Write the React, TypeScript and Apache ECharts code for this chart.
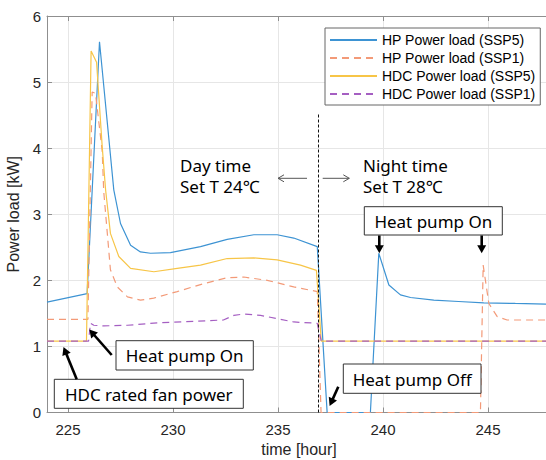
import React, { useEffect, useRef } from "react";
import * as echarts from "echarts";

// ---------- data ----------
const xTicks = [225, 230, 235, 240, 245];
const seriesNames = [
  "HP Power load (SSP5)",
  "HP Power load (SSP1)",
  "HDC Power load (SSP5)",
  "HDC Power load (SSP1)",
];

const hpSsp5Time = [224, 225.91, 226.5, 227.18, 227.5, 227.98, 228.45, 228.93, 229.88, 231.31, 232.58, 233.85, 234.96, 235.75, 236.87, 237.34, 239.4, 239.8, 240.28, 240.83, 241.31, 242.42, 243.6, 244.8, 246.3, 248];
const hpSsp5Load = [1.67, 1.8, 5.61, 3.37, 2.86, 2.53, 2.43, 2.41, 2.42, 2.51, 2.62, 2.69, 2.69, 2.64, 2.51, 0, 0, 2.41, 1.93, 1.78, 1.74, 1.7, 1.68, 1.66, 1.65, 1.64];

const hpSsp1Time = [224, 225.95, 226.15, 226.31, 226.63, 226.7, 227.02, 227.35, 227.83, 228.45, 229.08, 230.2, 231.46, 232.58, 233.37, 234.49, 235.75, 236.87, 237.05, 244.64, 244.77, 245.04, 245.44, 245.91, 246.8, 248];
const hpSsp1Load = [1.41, 1.41, 4.85, 4.83, 3.95, 3.35, 2.16, 1.9, 1.75, 1.7, 1.73, 1.83, 1.95, 2.04, 2.05, 2.0, 1.9, 1.83, 0, 0, 2.23, 1.65, 1.45, 1.4, 1.4, 1.4];

const hdcSsp5Time = [224, 225.88, 226.1, 226.36, 226.63, 226.79, 227.02, 227.42, 227.98, 229.09, 230.2, 231.31, 232.58, 233.85, 234.96, 236.07, 236.83, 237.06, 248];
const hdcSsp5Load = [1.08, 1.08, 5.47, 5.3, 4.02, 3.37, 2.71, 2.36, 2.18, 2.13, 2.18, 2.23, 2.33, 2.34, 2.31, 2.23, 2.15, 1.08, 1.08];

const hdcSsp1Time = [224, 225.98, 226.07, 226.23, 226.7, 227.83, 229.4, 231.0, 232.4, 232.9, 233.37, 234.17, 234.96, 235.75, 236.87, 237.06, 248];
const hdcSsp1Load = [1.08, 1.08, 1.35, 1.32, 1.31, 1.32, 1.36, 1.38, 1.4, 1.47, 1.49, 1.47, 1.42, 1.37, 1.35, 1.08, 1.08];

const dividerTime = 236.9;
const dividerTop = 4.53;

// ---------- helpers ----------
const zip = (t: number[], v: number[]) => t.map((x, i) => [x, v[i]]);

const ANN_FONT = "17px 'Noto Sans', 'Noto Sans CJK KR', sans-serif";

function solidArrow(x1: number, y1: number, x2: number, y2: number) {
  const dx = x2 - x1, dy = y2 - y1;
  const len = Math.hypot(dx, dy);
  const ux = dx / len, uy = dy / len;
  const hl = 8, hw = 4.5;
  const bx = x2 - ux * hl, by = y2 - uy * hl;
  const px = -uy, py = ux;
  return [
    { type: "line", z: 100, shape: { x1, y1, x2: bx + ux, y2: by + uy }, style: { stroke: "#000", lineWidth: 2.6 } },
    { type: "polygon", z: 100, shape: { points: [[x2, y2], [bx + px * hw, by + py * hw], [bx - px * hw, by - py * hw]] }, style: { fill: "#000" } },
  ];
}

function thinArrow(x1: number, y1: number, x2: number, y2: number) {
  const dx = x2 - x1, dy = y2 - y1;
  const len = Math.hypot(dx, dy);
  const ux = dx / len, uy = dy / len;
  const hl = 6, hw = 3.5;
  const bx = x2 - ux * hl, by = y2 - uy * hl;
  const px = -uy, py = ux;
  return [
    { type: "line", z: 100, shape: { x1, y1, x2, y2 }, style: { stroke: "#555", lineWidth: 1 } },
    { type: "polyline", z: 100, shape: { points: [[bx + px * hw, by + py * hw], [x2, y2], [bx - px * hw, by - py * hw]] }, style: { stroke: "#555", lineWidth: 1, fill: null } },
  ];
}

function box(x: number, y: number, w: number, h: number, text: string) {
  return [
    { type: "rect", z: 99, shape: { x, y, width: w, height: h }, style: { fill: "#fff", stroke: "#333", lineWidth: 1 } },
    { type: "text", z: 100, style: { text, x: x + w / 2, y: y + h / 2 + 0.5, align: "center", verticalAlign: "middle", font: ANN_FONT, fill: "#000" } },
  ];
}

function label(x: number, y: number, text: string) {
  return { type: "text", z: 100, style: { text, x, y, align: "left", verticalAlign: "middle", font: ANN_FONT, fill: "#000" } };
}

export default function App() {
  const ref = useRef<HTMLDivElement>(null);

  useEffect(() => {
    if (!ref.current) return;
    const chart = echarts.init(ref.current, undefined, { renderer: "svg" });
    const axisColor = "#8f8f8f";
    const tickFont = { fontSize: 15, color: "#262626", fontFamily: "'Liberation Sans', Arial, sans-serif" };

    const mkLine = (name: string, data: number[][], color: string, dashed: boolean, extra: any = {}) => ({
      name,
      type: "line",
      data,
      symbol: "none",
      showSymbol: false,
      lineStyle: { color, width: 1.2, type: dashed ? [7, 5] : "solid" },
      itemStyle: { color },
      z: 3,
      ...extra,
    });

    chart.setOption({
      animation: false,
      backgroundColor: "#fff",
      grid: { left: 47, top: 16, width: 504, height: 396.5, outerBoundsMode: "none" },
      legend: {
        orient: "vertical",
        left: 325,
        top: 28,
        padding: [5, 5, 4, 4],
        itemWidth: 47,
        itemHeight: 14,
        itemGap: 4,
        borderColor: "#666",
        borderWidth: 1,
        backgroundColor: "#fff",
        itemStyle: { opacity: 0, borderWidth: 0 },
        textStyle: { fontSize: 14, color: "#000", fontFamily: "'Liberation Sans', Arial, sans-serif" },
        data: seriesNames,
      },
      xAxis: [
        {
          type: "value",
          min: 224,
          max: 248,
          position: "bottom",
          name: "time [hour]",
          nameLocation: "middle",
          nameGap: 29,
          nameTextStyle: { fontSize: 16, color: "#262626", fontFamily: "'Liberation Sans', Arial, sans-serif" },
          axisLine: { show: true, onZero: false, lineStyle: { color: axisColor, width: 1 } },
          axisTick: { show: true, inside: true, length: 5, customValues: xTicks, lineStyle: { color: axisColor } },
          axisLabel: { show: true, margin: 9, customValues: xTicks, ...tickFont },
          splitLine: { show: true, lineStyle: { color: "#e6e6e6", width: 1 } },
        },
        {
          type: "value",
          min: 224,
          max: 248,
          position: "top",
          axisLine: { show: true, onZero: false, lineStyle: { color: axisColor, width: 1 } },
          axisTick: { show: true, inside: true, length: 5, customValues: xTicks, lineStyle: { color: axisColor } },
          axisLabel: { show: false, customValues: xTicks },
          splitLine: { show: false },
        },
      ],
      yAxis: [
        {
          type: "value",
          min: 0,
          max: 6,
          interval: 1,
          position: "left",
          name: "Power load [kW]",
          nameLocation: "middle",
          nameGap: 22,
          nameTextStyle: { fontSize: 16, color: "#262626", fontFamily: "'Liberation Sans', Arial, sans-serif" },
          axisLine: { show: true, onZero: false, lineStyle: { color: axisColor, width: 1 } },
          axisTick: { show: true, inside: true, length: 5, lineStyle: { color: axisColor } },
          axisLabel: { show: true, margin: 6, ...tickFont },
          splitLine: { show: true, lineStyle: { color: "#e6e6e6", width: 1 } },
        },
        {
          type: "value",
          min: 0,
          max: 6,
          interval: 1,
          position: "right",
          axisLine: { show: true, onZero: false, lineStyle: { color: axisColor, width: 1 } },
          axisTick: { show: true, inside: true, length: 5, lineStyle: { color: axisColor } },
          axisLabel: { show: false },
          splitLine: { show: false },
        },
      ],
      series: [
        mkLine(seriesNames[0], zip(hpSsp5Time, hpSsp5Load), "#3d93d3", false, {
          markLine: {
            silent: true,
            symbol: ["none", "none"],
            label: { show: false },
            lineStyle: { color: "#111", width: 1, type: [3, 2] },
            data: [[{ coord: [dividerTime, 0] }, { coord: [dividerTime, dividerTop] }]],
          },
        }),
        mkLine(seriesNames[1], zip(hpSsp1Time, hpSsp1Load), "#f39a78", true),
        mkLine(seriesNames[2], zip(hdcSsp5Time, hdcSsp5Load), "#f7c547", false),
        mkLine(seriesNames[3], zip(hdcSsp1Time, hdcSsp1Load), "#a55fc2", true),
      ],
      graphic: [
        label(180, 165, "Day time"),
        label(180, 186, "Set T 24℃"),
        label(363, 165, "Night time"),
        label(363, 186, "Set T 28℃"),
        ...thinArrow(307, 178.3, 278, 178.3),
        ...thinArrow(322.7, 178.3, 349.3, 178.3),
        ...box(116, 340.7, 137.3, 29.3, "Heat pump On"),
        ...solidArrow(111.7, 355, 89.3, 329.5),
        ...box(54.3, 379.3, 189, 29, "HDC rated fan power"),
        ...solidArrow(76.7, 379.3, 63.5, 347),
        ...box(364.3, 206.7, 138, 28.3, "Heat pump On"),
        ...solidArrow(379.3, 235.5, 379.3, 253.3),
        ...solidArrow(481.7, 235.5, 481.7, 253.3),
        ...box(343.3, 364, 137.7, 29.3, "Heat pump Off"),
        ...solidArrow(338.3, 386.7, 329.6, 406),
      ],
    });

    return () => chart.dispose();
  }, []);

  return (
    <div
      ref={ref}
      style={{ position: "absolute", left: 0, top: 0, width: 546, height: 460, overflow: "hidden", background: "#fff" }}
    />
  );
}
